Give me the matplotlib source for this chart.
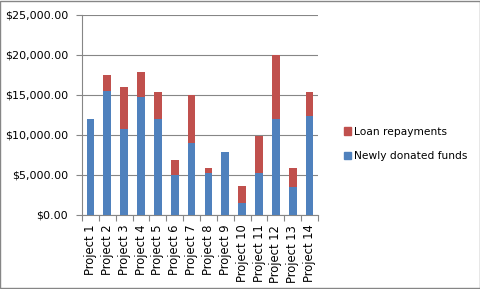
import numpy as np
import matplotlib.pyplot as plt
from matplotlib.patches import Rectangle, Patch
from matplotlib.ticker import FuncFormatter, FixedLocator

projects = ["Project %d" % i for i in range(1, 15)]
donated = [12000, 15500, 10700, 14750, 12000, 5000, 9000, 5250, 7900, 1500, 5250, 12000, 3500, 12400]
loans = [0, 2000, 5300, 3150, 3400, 1900, 6000, 650, 0, 2100, 4650, 8000, 2400, 3000]

BLUE = "#4F81BD"
RED = "#C0504D"
GRID = "#868686"

plt.rcParams["font.family"] = ["DejaVu Sans"]

fig = plt.figure(figsize=(4.81, 2.89), dpi=100)
ax = fig.add_axes([82 / 481, 1 - 215 / 289, (318 - 82) / 481, 200 / 289])

x = np.arange(len(projects))
ax.bar(x, donated, width=0.45, color=BLUE, zorder=3, label="Newly donated funds")
ax.bar(x, loans, width=0.45, bottom=donated, color=RED, zorder=3, label="Loan repayments")

ax.set_xlim(-0.5, len(projects) - 0.5)
ax.set_ylim(0, 25000)
ax.set_yticks(np.arange(0, 25001, 5000))
ax.yaxis.set_major_formatter(FuncFormatter(lambda v, p: "${:,.2f}".format(v)))
ax.grid(axis="y", color=GRID, lw=0.8, zorder=0)

ax.set_xticks(x)
ax.set_xticklabels(projects, rotation=90)
ax.xaxis.set_minor_locator(FixedLocator(np.arange(-0.5, len(projects), 1.0)))
ax.tick_params(axis="x", which="major", length=0, pad=7, labelsize=8.3, colors="black")
ax.tick_params(axis="x", which="minor", length=4, color=GRID, width=0.8)
ax.tick_params(axis="y", length=4, color=GRID, width=0.8, labelsize=8, pad=6)

for s in ("top", "right"):
    ax.spines[s].set_visible(False)
for s in ("left", "bottom"):
    ax.spines[s].set_color(GRID)
    ax.spines[s].set_linewidth(0.8)

handles = [Patch(color=RED, label="Loan repayments"),
           Patch(color=BLUE, label="Newly donated funds")]
fig.legend(handles=handles, loc="center left", bbox_to_anchor=(334 / 481, 1 - 144 / 289),
           frameon=False, fontsize=7.7, handlelength=0.7, handleheight=0.7,
           handletextpad=0.3, labelspacing=1.4)

fig.patches.append(Rectangle((0.001, 0.002), 0.997, 0.995, transform=fig.transFigure,
                             fill=False, edgecolor=GRID, lw=1.0))

fig.savefig("out.png", dpi=100, facecolor="white")
